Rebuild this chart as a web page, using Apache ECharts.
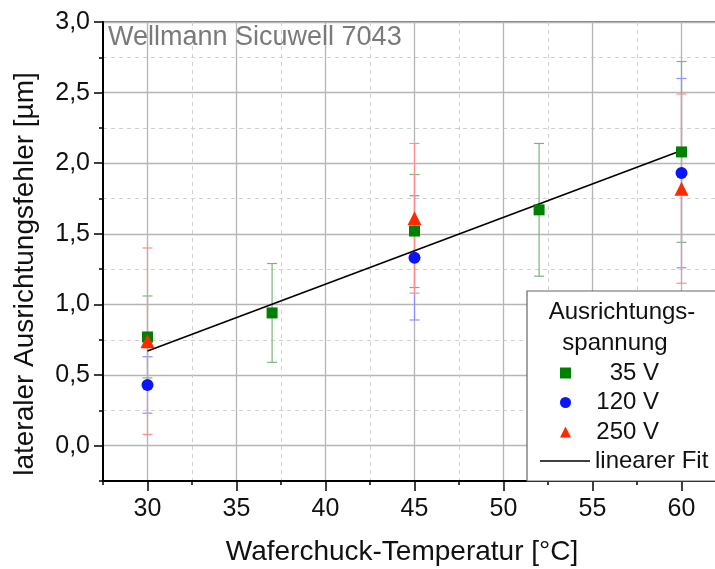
<!DOCTYPE html>
<html><head><meta charset="utf-8">
<script src="https://cdn.jsdelivr.net/npm/echarts@6/dist/echarts.min.js"></script>
<style>html,body{margin:0;padding:0;background:#fff}#c{width:715px;height:569px}</style>
</head><body><div id="c"></div>
<script>
// ---- data ----
const temps35 = [30, 37, 45, 52, 60];
const vals35  = [0.77, 0.94, 1.52, 1.67, 2.08];
const err35   = [0.29, 0.35, 0.40, 0.47, 0.64];
const temps120 = [30, 45, 60];
const vals120  = [0.43, 1.33, 1.93];
const err120   = [0.20, 0.44, 0.67];
const temps250 = [30, 45, 60];
const vals250  = [0.74, 1.61, 1.82];
const err250   = [0.66, 0.53, 0.67];
const fitX = [30, 60];
const fitY = [0.67, 2.09];
const xMajorTicks = [30, 35, 40, 45, 50, 55, 60];
const yMajorTicks = ['0,0', '0,5', '1,0', '1,5', '2,0', '2,5', '3,0'];
const seriesNames = ['35 V', '120 V', '250 V'];
const fitName = 'linearer Fit';
const titleText = 'Wellmann Sicuwell 7043';
const legendTitle = ['Ausrichtungs-', 'spannung'];
const xName = 'Waferchuck-Temperatur [°C]';
const yName = 'lateraler Ausrichtungsfehler [µm]';

const FONT = '"Liberation Sans", Arial, sans-serif';
const cGreen = '#008000', cBlue = '#0a14ff', cRed = '#ff2a00';
const eGreen = '#7fb27f', eBlue = '#8f8fff', eRed = '#ff8e8e';

function pairs(xs, ys) { return xs.map((x, i) => [x, ys[i]]); }
function errorSeries(id, xs, ys, errs, color) {
  return {
    type: 'custom', id: id, xAxisIndex: 0, yAxisIndex: 0, z: 2, silent: true,
    data: xs.map((x, i) => [x, ys[i] - errs[i], ys[i] + errs[i]]),
    encode: { x: 0, y: [1, 2] },
    renderItem: function (params, api) {
      const x = api.value(0);
      const lo = api.coord([x, api.value(1)]);
      const hi = api.coord([x, api.value(2)]);
      const w = 5;
      const style = { stroke: color, lineWidth: 1.2, fill: null };
      return { type: 'group', children: [
        { type: 'line', shape: { x1: lo[0], y1: lo[1], x2: hi[0], y2: hi[1] }, style: style },
        { type: 'line', shape: { x1: lo[0] - w, y1: lo[1], x2: lo[0] + w, y2: lo[1] }, style: style },
        { type: 'line', shape: { x1: hi[0] - w, y1: hi[1], x2: hi[0] + w, y2: hi[1] }, style: style }
      ]};
    }
  };
}

const chart = echarts.init(document.getElementById('c'), null, { renderer: 'canvas' });
const option = {
  animation: false,
  textStyle: { fontFamily: FONT },
  title: {
    text: titleText, left: 108, top: 24, padding: 0,
    textStyle: { fontFamily: FONT, fontSize: 27, fontWeight: 'normal', color: '#7a7a7a' }
  },
  grid: [
    { left: 103, right: -11, top: 22, bottom: 88, show: true, borderColor: '#555', borderWidth: 1.5, outerBoundsMode: 'none', containLabel: false },
    { left: 103, right: -11, top: 22, bottom: 123.3, outerBoundsMode: 'none', containLabel: false },
    { left: 147.5, right: 33.5, top: 22, bottom: 88, outerBoundsMode: 'none', containLabel: false }
  ],
  xAxis: [
    { gridIndex: 0, type: 'value', min: 27.5, max: 62.5, interval: 2.5,
      name: xName, nameLocation: 'middle', nameGap: 57,
      nameTextStyle: { fontFamily: FONT, fontSize: 28, color: '#111', padding: [0, 25, 0, 0] },
      axisLine: { show: true, onZero: false, lineStyle: { color: '#000', width: 2 } },
      axisTick: { show: true, length: 4, lineStyle: { color: '#000', width: 1.5 } },
      axisLabel: { show: false },
      splitLine: { show: true, lineStyle: { color: '#cfcfcf', width: 1, type: [4, 4] } } },
    { gridIndex: 1, type: 'value', min: 27.5, max: 62.5, show: false },
    { gridIndex: 2, type: 'value', min: 30, max: 60, interval: 5,
      axisLine: { show: false },
      axisTick: { show: true, length: 10, lineStyle: { color: '#000', width: 1.5 } },
      axisLabel: { show: true, margin: 16, fontFamily: FONT, fontSize: 25, color: '#111',
        formatter: function (v) { const i = xMajorTicks.indexOf(v); return i >= 0 ? String(xMajorTicks[i]) : ''; } },
      splitLine: { show: true, lineStyle: { color: '#b5b5b5', width: 1.3 } } }
  ],
  yAxis: [
    { gridIndex: 0, type: 'value', min: -0.25, max: 3.0, interval: 0.25,
      name: yName, nameLocation: 'middle', nameGap: 64, nameRotate: 90,
      nameTextStyle: { fontFamily: FONT, fontSize: 28, color: '#111', padding: [0, 45, 0, 0] },
      axisLine: { show: true, onZero: false, lineStyle: { color: '#000', width: 2 } },
      axisTick: { show: true, length: 4, lineStyle: { color: '#000', width: 1.5 } },
      axisLabel: { show: false },
      splitLine: { show: true, lineStyle: { color: '#cfcfcf', width: 1, type: [4, 4] } } },
    { gridIndex: 1, type: 'value', min: 0, max: 3.0, interval: 0.5,
      axisLine: { show: false },
      axisTick: { show: true, length: 9, lineStyle: { color: '#000', width: 1.5 } },
      axisLabel: { show: true, margin: 13, fontFamily: FONT, fontSize: 25, color: '#111',
        formatter: function (v) { const i = Math.round(v / 0.5); return yMajorTicks[i] || ''; } },
      splitLine: { show: true, lineStyle: { color: '#b5b5b5', width: 1.3 } } },
    { gridIndex: 2, type: 'value', min: 0, max: 1, show: false }
  ],
  legend: [
    { orient: 'vertical', left: 560, top: 361, itemWidth: 11, itemHeight: 11, itemGap: 5.5,
      selectedMode: false, z: 10, padding: 0,
      data: [{ name: seriesNames[0], icon: 'rect' }, { name: seriesNames[1], icon: 'circle' }, { name: seriesNames[2], icon: 'triangle' }],
      formatter: function (n) { return '{r|' + n + '}'; },
      textStyle: { fontFamily: FONT, fontSize: 24, lineHeight: 24, color: '#111',
        rich: { r: { width: 83, align: 'right', fontFamily: FONT, fontSize: 24, lineHeight: 24, color: '#111' } } } },
    { orient: 'vertical', left: 540, top: 449, itemWidth: 50, itemHeight: 1.6,
      selectedMode: false, z: 10, padding: 0,
      data: [{ name: fitName, icon: 'rect' }],
      itemStyle: { color: '#000' },
      textStyle: { fontFamily: FONT, fontSize: 24, lineHeight: 24, color: '#111' } }
  ],
  graphic: [
    { type: 'rect', z: 8, shape: { x: 527, y: 291, width: 300, height: 190 },
      style: { fill: '#fff', stroke: '#666', lineWidth: 1.2 } },
    { type: 'text', z: 9, x: 622, y: 312,
      style: { text: legendTitle[0], fontFamily: FONT, fontSize: 24, fill: '#111', align: 'center', verticalAlign: 'middle' } },
    { type: 'text', z: 9, x: 615, y: 343,
      style: { text: legendTitle[1], fontFamily: FONT, fontSize: 24, fill: '#111', align: 'center', verticalAlign: 'middle' } }
  ],
  series: [
    errorSeries('e35', temps35, vals35, err35, eGreen),
    errorSeries('e120', temps120, vals120, err120, eBlue),
    errorSeries('e250', temps250, vals250, err250, eRed),
    { type: 'line', name: fitName, xAxisIndex: 0, yAxisIndex: 0, z: 3, symbol: 'none',
      data: pairs(fitX, fitY), lineStyle: { color: '#000', width: 1.6 }, itemStyle: { color: '#000' } },
    { type: 'scatter', name: seriesNames[0], xAxisIndex: 0, yAxisIndex: 0, z: 4,
      symbol: 'rect', symbolSize: 11, data: pairs(temps35, vals35), itemStyle: { color: cGreen, opacity: 1 } },
    { type: 'scatter', name: seriesNames[1], xAxisIndex: 0, yAxisIndex: 0, z: 4,
      symbol: 'circle', symbolSize: 12, data: pairs(temps120, vals120), itemStyle: { color: cBlue, opacity: 1 } },
    { type: 'scatter', name: seriesNames[2], xAxisIndex: 0, yAxisIndex: 0, z: 4,
      symbol: 'triangle', symbolSize: 14, data: pairs(temps250, vals250), itemStyle: { color: cRed, opacity: 1 } }
  ]
};
chart.setOption(option);
</script>
</body></html>
